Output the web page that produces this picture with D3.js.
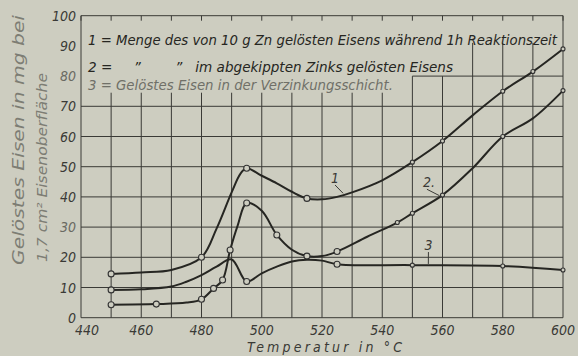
<!DOCTYPE html>
<html>
<head>
<meta charset="utf-8">
<script src="https://cdn.jsdelivr.net/npm/d3@7"></script>
<style>
  body { margin: 0; background: #cdcdc0; }
  svg text { font-family: "DejaVu Sans Condensed", "DejaVu Sans", sans-serif; font-style: italic; }
</style>
</head>
<body>
<div id="chart"></div>
<script>
// values (temperature in °C, dissolved iron in mg)
var temps1 = [450, 460, 470, 480, 485, 490, 493, 495, 500, 505, 510, 515, 520, 525, 530, 540, 550, 560, 570, 580, 590, 600];
var iron1  = [14.5, 15, 15.8, 20, 29.5, 41.5, 47.8, 49.5, 47, 44.5, 41.7, 39.5, 39.2, 40, 41.5, 45.5, 51.5, 58.5, 67, 75, 81.5, 89];
var marks1 = [450, 480, 495, 515, 550, 560, 580, 590, 600];

var temps2 = [450, 465, 475, 480, 484, 487, 489.5, 492, 495, 500, 505, 510, 515, 520, 525, 535, 545, 550, 560, 570, 580, 590, 600];
var iron2  = [4.3, 4.5, 5, 6.1, 9.7, 12.5, 22.4, 30.5, 38, 35.4, 27.4, 22.5, 20.4, 20.4, 21.9, 26.8, 31.5, 34.6, 40.6, 49.5, 60, 66, 75.2];
var marks2 = [450, 465, 480, 484, 487, 489.5, 495, 505, 515, 525, 545, 550, 560, 580, 600];

var temps3 = [450, 460, 470, 475, 480, 485, 490, 495, 500, 505, 510, 515, 520, 525, 550, 580, 600];
var iron3  = [9.2, 9.4, 10.3, 11.9, 14.1, 16.9, 19.3, 12, 14.7, 16.9, 18.6, 19.2, 18.9, 17.7, 17.4, 17.1, 15.8];
var marks3 = [450, 495, 525, 550, 580, 600];

var xTicks = [440, 460, 480, 500, 520, 540, 560, 580, 600];
var yTicks = [0, 10, 20, 30, 40, 50, 60, 70, 80, 90, 100];

var legendLines = [
  "1 = Menge des von 10 g Zn gelösten Eisens während 1h Reaktionszeit",
  "2 =     \u201D        \u201D   im abgekippten Zinks gelösten Eisens",
  "3 = Gelöstes Eisen in der Verzinkungsschicht."
];

var curveLabels = ["1", "2.", "3"];

var svgWidth = 578;
var svgHeight = 356;
var ink = "#262622";
var paper = "#cdcdc0";

var svg = d3.select("#chart")
  .append("svg")
  .attr("width", svgWidth)
  .attr("height", svgHeight);

var x = d3.scaleLinear().domain([440, 600]).range([81, 563]);
var y = d3.scaleLinear().domain([0, 100]).range([317.7, 15.7]);

// grid (the legend sits on a blank patch at the top left)
var grid = svg.append("g").attr("stroke", "#3a3a36").attr("stroke-width", 1);

d3.range(440, 601, 10).forEach(function(t) {
  var top = 74.5;
  if (t == 440 || t == 600) top = 100;
  else if (t >= 570) top = 91;
  else if (t >= 550) top = 80;
  grid.append("line")
    .attr("x1", x(t)).attr("x2", x(t))
    .attr("y1", y(top)).attr("y2", y(0));
  // short ticks hanging from the top border
  grid.append("line")
    .attr("x1", x(t)).attr("x2", x(t))
    .attr("y1", y(100)).attr("y2", y(100) + 5);
});

d3.range(0, 101, 10).forEach(function(v) {
  if (v == 90) return;
  var from = v == 80 ? 550 : 440;
  grid.append("line")
    .attr("x1", x(from)).attr("x2", x(600))
    .attr("y1", y(v)).attr("y2", y(v));
});

// axis labels
svg.append("g").selectAll("text")
  .data(yTicks)
  .enter()
  .append("text")
  .attr("x", 76)
  .attr("y", function(d) { return y(d) + 5; })
  .attr("text-anchor", "end")
  .attr("font-size", 14)
  .attr("fill", function(d) { return (d == 80 || d == 30) ? "#6a6a62" : "#3a3a36"; })
  .text(function(d) { return d; });

svg.append("g").selectAll("text")
  .data(xTicks)
  .enter()
  .append("text")
  .attr("x", function(d) { return x(d) + (d == 440 ? 6 : 0); })
  .attr("y", 335)
  .attr("text-anchor", "middle")
  .attr("font-size", 14)
  .attr("fill", "#3a3a36")
  .text(function(d) { return d; });

svg.append("text")
  .attr("x", 247)
  .attr("y", 352)
  .attr("font-size", 14)
  .attr("textLength", 155)
  .attr("lengthAdjust", "spacing")
  .attr("fill", "#3a3a36")
  .text("Temperatur in °C");

svg.append("text")
  .attr("transform", "translate(24,265) rotate(-90)")
  .attr("font-size", 16)
  .attr("textLength", 250)
  .attr("lengthAdjust", "spacingAndGlyphs")
  .attr("fill", "#7d7d74")
  .text("Gelöstes Eisen in mg bei");

svg.append("text")
  .attr("transform", "translate(47,262) rotate(-90)")
  .attr("font-size", 14)
  .attr("textLength", 189)
  .attr("lengthAdjust", "spacingAndGlyphs")
  .attr("fill", "#7d7d74")
  .text("1,7 cm² Eisenoberfläche");

// legend
var legendLen = [469, 365, 305];
svg.append("g").selectAll("text")
  .data(legendLines)
  .enter()
  .append("text")
  .attr("x", 88)
  .attr("y", function(d, i) { return [45, 72, 90][i]; })
  .attr("font-size", 14)
  .attr("textLength", function(d, i) { return legendLen[i]; })
  .attr("lengthAdjust", "spacingAndGlyphs")
  .attr("xml:space", "preserve")
  .attr("fill", function(d, i) { return i == 2 ? "#707068" : ink; })
  .text(function(d) { return d; });

// curves
var series = [
  { t: temps1, v: iron1, m: marks1 },
  { t: temps2, v: iron2, m: marks2 },
  { t: temps3, v: iron3, m: marks3 }
];

var line = d3.line()
  .x(function(d) { return x(d[0]); })
  .y(function(d) { return y(d[1]); })
  .curve(d3.curveCatmullRom.alpha(0.5));

series.forEach(function(s) {
  var pts = s.t.map(function(t, i) { return [t, s.v[i]]; });
  svg.append("path")
    .datum(pts)
    .attr("d", line)
    .attr("fill", "none")
    .attr("stroke", ink)
    .attr("stroke-width", 2);

  var mpts = pts.filter(function(p) { return s.m.indexOf(p[0]) >= 0; });
  svg.append("g").selectAll("circle")
    .data(mpts)
    .enter()
    .append("circle")
    .attr("cx", function(d) { return x(d[0]); })
    .attr("cy", function(d) { return y(d[1]); })
    .attr("r", function(d) { return d[0] > 540 ? 2 : 3; })
    .attr("fill", paper)
    .attr("stroke", "#333")
    .attr("stroke-width", 1.1);
});

// curve numbers with leader lines
var labelT = [523, 553.5, 554];
var labelV = [44.6, 43.2, 22.4];
var tipT = [527, 559, 555.3];
var tipV = [41.2, 40.4, 17.8];
svg.append("g").selectAll("text")
  .data(curveLabels)
  .enter()
  .append("text")
  .attr("x", function(d, i) { return x(labelT[i]); })
  .attr("y", function(d, i) { return y(labelV[i]); })
  .attr("font-size", 14)
  .attr("fill", "#3a3a36")
  .text(function(d) { return d; });

svg.append("g").selectAll("line")
  .data(curveLabels)
  .enter()
  .append("line")
  .attr("x1", function(d, i) { return x(labelT[i]) + 4; })
  .attr("y1", function(d, i) { return y(labelV[i]) + 2; })
  .attr("x2", function(d, i) { return x(tipT[i]); })
  .attr("y2", function(d, i) { return y(tipV[i]); })
  .attr("stroke", "#3a3a36")
  .attr("stroke-width", 1);
</script>
</body>
</html>
